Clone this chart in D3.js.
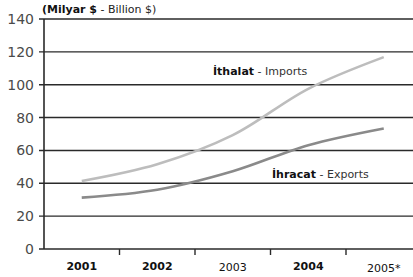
<!DOCTYPE html>
<html>
<head>
<meta charset="utf-8">
<script src="https://cdn.jsdelivr.net/npm/d3@7"></script>
<style>
  body { margin: 0; background: #fff; }
  text { font-family: "DejaVu Sans", Verdana, sans-serif; }
</style>
</head>
<body>
<div id="chart"></div>
<script>
// years and the two series (billion $)
var years = ["2001", "2002", "2003", "2004", "2005*"];
var imports = [41.4, 51.6, 69.3, 97.5, 116.8];
var exports = [31.3, 36.1, 47.3, 63.2, 73.4];
var yTicks = [0, 20, 40, 60, 80, 100, 120, 140];

function init(){
	var w = 413, h = 277;
	var plotLeft = 44, plotTop = 19, plotBottom = 249;

	var svg = d3.select("#chart").append("svg")
		.attr("width", w).attr("height", h);

	var xScale = d3.scaleBand()
		.domain(years)
		.range([plotLeft, plotLeft + 5 * 75.5]);

	var yScale = d3.scaleLinear()
		.domain([0, 140])
		.range([plotBottom, plotTop]);

	// gridlines
	svg.selectAll("line.grid")
		.data(yTicks)
		.enter().append("line")
		.attr("class", "grid")
		.attr("x1", plotLeft - 5).attr("x2", w)
		.attr("y1", function(d){ return yScale(d); })
		.attr("y2", function(d){ return yScale(d); })
		.attr("stroke", "#2a2a2a")
		.attr("stroke-width", 1.4);

	// y axis line
	svg.append("line")
		.attr("x1", plotLeft).attr("x2", plotLeft)
		.attr("y1", plotTop).attr("y2", plotBottom)
		.attr("stroke", "#2a2a2a").attr("stroke-width", 1.6);

	// y labels
	svg.selectAll("text.ylab")
		.data(yTicks)
		.enter().append("text")
		.attr("class", "ylab")
		.attr("x", 34)
		.attr("y", function(d){ return yScale(d) + 5; })
		.attr("text-anchor", "end")
		.attr("font-size", 14)
		.attr("fill", "#4a4a4a")
		.text(function(d){ return d; });

	// x ticks between categories
	svg.selectAll("line.xtick")
		.data(years.slice(1))
		.enter().append("line")
		.attr("class", "xtick")
		.attr("x1", function(d){ return xScale(d); })
		.attr("x2", function(d){ return xScale(d); })
		.attr("y1", plotBottom).attr("y2", plotBottom + 6)
		.attr("stroke", "#2a2a2a").attr("stroke-width", 1.4);

	// x labels
	svg.selectAll("text.xlab")
		.data(years)
		.enter().append("text")
		.attr("class", "xlab")
		.attr("x", function(d){ return xScale(d) + xScale.bandwidth()/2; })
		.attr("y", function(d, i){ return 270 + (i % 2 == 0 ? i*0.5 : 0); })
		.attr("text-anchor", "middle")
		.attr("font-size", 11)
		.attr("font-weight", function(d, i){ return (i == 2 || i == 4) ? "normal" : "bold"; })
		.attr("fill", "#111")
		.text(function(d){ return d; });

	// lines
	var line = d3.line()
		.x(function(d, i){ return xScale(years[i]) + xScale.bandwidth()/2; })
		.y(function(d){ return yScale(d); })
		.curve(d3.curveCatmullRom.alpha(0.5));

	svg.append("path")
		.datum(imports)
		.attr("d", line)
		.attr("fill", "none")
		.attr("stroke", "#bdbdbd")
		.attr("stroke-width", 2.6);

	svg.append("path")
		.datum(exports)
		.attr("d", line)
		.attr("fill", "none")
		.attr("stroke", "#8a8a8a")
		.attr("stroke-width", 2.6);

	// series labels
	var impLabel = svg.append("text").attr("x", 213).attr("y", 75).attr("font-size", 11);
	impLabel.append("tspan").attr("font-weight", "bold").attr("fill", "#111").text("İthalat");
	impLabel.append("tspan").attr("fill", "#333").text(" - Imports");

	var expLabel = svg.append("text").attr("x", 272).attr("y", 178).attr("font-size", 11);
	expLabel.append("tspan").attr("font-weight", "bold").attr("fill", "#111").text("İhracat");
	expLabel.append("tspan").attr("fill", "#333").text(" - Exports");

	// unit title
	var title = svg.append("text").attr("x", 42).attr("y", 13).attr("font-size", 11);
	title.append("tspan").attr("font-weight", "bold").attr("fill", "#111").text("(Milyar $");
	title.append("tspan").attr("fill", "#222").text(" - Billion $)");
}

init();
</script>
</body>
</html>
